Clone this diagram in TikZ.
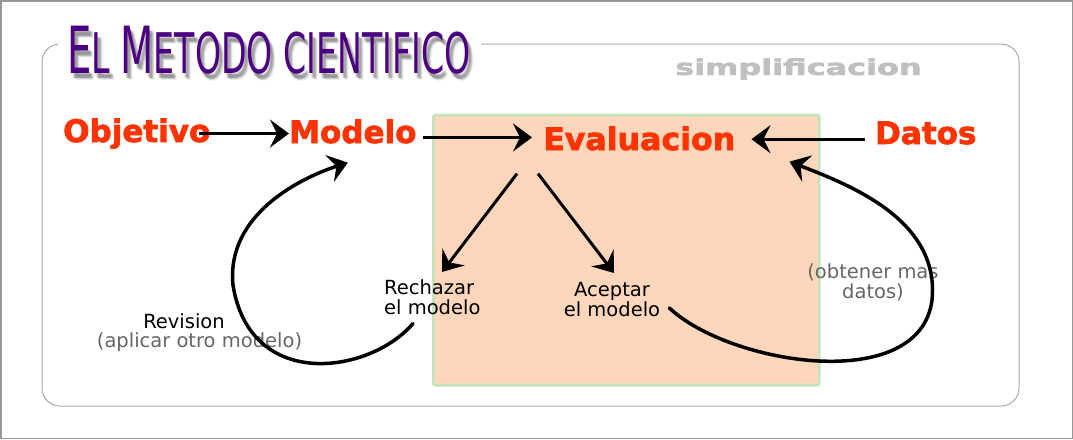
\documentclass[tikz,border=0pt]{standalone}
\usepackage{fontspec}
\setmainfont{DejaVu Sans}
\newfontfamily\blackfont{DejaVu Sans}[BoldFeatures={FakeBold=2.2}]
\usetikzlibrary{arrows.meta,calc}
\definecolor{redorange}{RGB}{255,51,0}
\definecolor{peach}{RGB}{253,214,187}
\definecolor{boxgreen}{RGB}{200,226,188}
\definecolor{txtgray}{RGB}{102,102,102}
\definecolor{simgray}{RGB}{192,192,192}
\definecolor{framegray}{RGB}{150,150,150}
\definecolor{roundgray}{RGB}{170,170,170}
\definecolor{titlepurple}{RGB}{75,0,130}
\newcommand\ElTitle{\scalebox{0.593}[1]{{\fontsize{65}{65}\selectfont E}{\fontsize{56}{56}\selectfont L }{\fontsize{65}{65}\selectfont M}{\fontsize{56}{56}\selectfont ETODO CIENTIFICO}}}
\tikzset{
  heavy/.style={font=\blackfont\bfseries\fontsize{31}{31}\selectfont, text=redorange, inner sep=0pt, anchor=base west},
  lbl/.style={font=\fontsize{19.5}{20}\selectfont, inner sep=0pt},
  sublbl/.style={lbl, text=txtgray},
  titlestyle/.style={inner sep=0pt, anchor=base west},
  arr/.style={line width=3pt, -{Stealth[length=19pt,width=28pt,inset=7pt]}},
  curv/.style={line width=3.5pt, line cap=round, -{Stealth[length=19pt,width=28pt,inset=7pt]}}
}
\begin{document}
\begin{tikzpicture}[x=1pt,y=-1pt]
\useasboundingbox (0,0) rectangle (1073,439);
\fill[white] (0,0) rectangle (1073,439);
\draw[framegray, line width=1.5pt] (0.75,0.75) rectangle (1072.25,438.25);
\draw[roundgray, line width=1pt, rounded corners=18pt] (42,44) rectangle (1019,406);
\fill[white] (58,36) rectangle (481,54);
% title with soft shadow
\foreach \dx/\dy in {2/4,3/5,4/6,3/6,4/5,5/7,2/5}
  \node[titlestyle, text=black, text opacity=0.07] at (67+\dx,73+\dy) {\ElTitle};
\node[titlestyle, text=titlepurple] (title) at (67,73) {\ElTitle};
% simplificacion
\node[inner sep=0pt, anchor=base west, text=simgray, font=\blackfont\bfseries\fontsize{22}{22}\selectfont] (simp) at (675,75) {\scalebox{1.45}[1]{simplificacion}};
% evaluation box
\draw[boxgreen, fill=peach, line width=3pt, rounded corners=2pt] (433.5,115) rectangle (819,385);
% main labels
\node[heavy] (obj) at (63,142) {Objetivo};
\node[heavy] (mod) at (289,143) {Modelo};
\node[heavy] (eva) at (543,150) {\scalebox{1.02}[1]{Evaluacion}};
\node[heavy] (dat) at (875,144) {Datos};
% small labels
\node[lbl, align=left, anchor=north west] (rej) at (384,279) {Rechazar\\el modelo};
\node[lbl, align=center, anchor=north] (acc) at (612,282.5) {Aceptar\\el modelo};
\node[lbl, anchor=base] (rev) at (184,328.5) {Revision};
\node[sublbl, anchor=base] (apl) at (199.5,347.5) {(aplicar otro modelo)};
\node[sublbl, align=center, anchor=north] (obt) at (873,263.5) {(obtener mas\\datos)};
% straight arrows
\draw[arr] ([xshift=-12pt]obj.east) -- (obj.east -| mod.west);
\draw[arr] ($(mod.east)+(6,6)$) -- ($(mod.east -| eva.west)+(-11,6)$);
\draw[arr] ($(dat.west)+(-10,6.3)$) -- ($(dat.west -| eva.east)+(16,6.3)$);
\draw[arr] ($(eva.south west)+(-26,23)$) -- ($(rej.north west)+(58,-7)$);
\draw[arr] ($(eva.south west)+(-5,23)$) -- ($(acc.north)+(2,-9.5)$);
% curved arrows
\draw[curv] ($(rej.south west)+(29,9)$) .. controls (370,374) and (250,392) .. (233,285)
  .. controls (226,215) and (300,178) .. ($(mod.south)+(-5,19)$);
\draw[curv] ($(acc.east)+(9,8)$) .. controls (730,365) and (920,395) .. (932,300)
  .. controls (940,220) and (850,185) .. ($(eva.south east)+(54,11)$);
\end{tikzpicture}
\end{document}
